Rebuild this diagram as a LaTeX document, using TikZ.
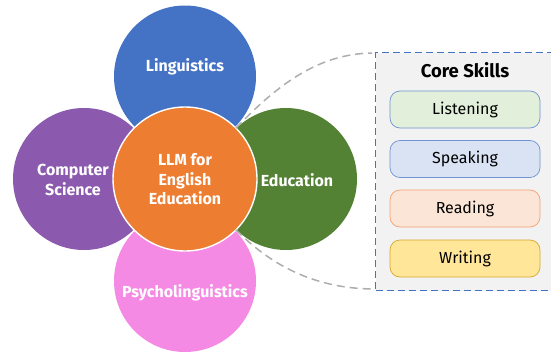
\documentclass[tikz,border=0pt]{standalone}
\usepackage{fontspec}
\setmainfont{Fira Sans}
\definecolor{cblue}{HTML}{4472C4}
\definecolor{cpurple}{HTML}{8B59AE}
\definecolor{cgreen}{HTML}{548235}
\definecolor{cpink}{HTML}{F48AE3}
\definecolor{corange}{HTML}{ED7D31}
\definecolor{cgray}{HTML}{ADADAD}
\definecolor{cpanel}{HTML}{F2F2F2}
\definecolor{sgreen}{HTML}{E2EFDA}
\definecolor{sblue}{HTML}{DAE3F3}
\definecolor{sorange}{HTML}{FBE5D6}
\definecolor{syellow}{HTML}{FFE699}
\definecolor{lgold}{HTML}{D6A82C}
\definecolor{lorange}{HTML}{F4A070}
\definecolor{lblue}{HTML}{6F93D3}
\tikzset{
  petal/.style={circle,draw=none,minimum size=142pt,inner sep=0pt,outer sep=0pt},
  hub/.style={circle,draw=white,line width=1.4pt,fill=corange,minimum size=144pt,inner sep=0pt,outer sep=0pt},
  wlabel/.style={text=white,font=\fontsize{16}{19.5}\selectfont\bfseries,align=center,inner sep=0pt},
  skill/.style={rectangle,rounded corners=10pt,line width=0.7pt,minimum width=150pt,minimum height=37pt,inner sep=0pt,text=black,font=\fontsize{16}{18}\selectfont},
  link/.style={draw=cgray,line width=1.5pt,dash pattern=on 8pt off 5pt},
}
\begin{document}
\begin{tikzpicture}[x=1pt,y=-1pt]
\useasboundingbox (0,0) rectangle (551,351);
\clip (0,0) rectangle (551,351);
\node[petal,fill=cblue] (top) at (185,76.5) {};
\node[petal,fill=cpurple] (left) at (84,179) {};
\node[petal,fill=cgreen] (right) at (286,179) {};
\node[petal,fill=cpink] (bottom) at (185,281) {};
\node[hub] (hub) at (185,179) {};
\node[wlabel] (tl) at (185,67) {Linguistics};
\node[wlabel] (ll) at (73,180) {Computer\\Science};
\node[wlabel] (rl) at (297,180) {Education};
\node[wlabel] (bl) at (185,293) {Psycholinguistics};
\node[wlabel] (hl) at (185,179.5) {LLM for\\English\\Education};
\node[draw=cblue,dash pattern=on 7pt off 4pt,fill=cpanel,line width=1.4pt,minimum width=190pt,minimum height=238pt,anchor=north west,inner sep=0pt] (panel) at (375,52) {};
\node[font=\fontsize{18.5}{20}\selectfont\bfseries,text=black,inner sep=0pt] (title) at (465,70.5) {Core Skills};
\node[skill,draw=lblue,fill=sgreen] (s1) at (465,109.5) {\raisebox{-2pt}{Listening}};
\node[skill,draw=lblue,fill=sblue] (s2) at (465,159) {\raisebox{-1.5pt}{Speaking}};
\node[skill,draw=lorange,fill=sorange] (s3) at (465,208.5) {\raisebox{-1.5pt}{Reading}};
\node[skill,draw=lgold,fill=syellow] (s4) at (465,258.5) {\raisebox{-1.5pt}{Writing}};
\coordinate (pa) at (372,53);
\coordinate (pb) at (372,289);
\draw[link] (hub.45) .. controls (280,82) and (320,54) .. (pa);
\draw[link] (hub.-45) .. controls (268,262) and (310,288) .. (pb);
\end{tikzpicture}
\end{document}
